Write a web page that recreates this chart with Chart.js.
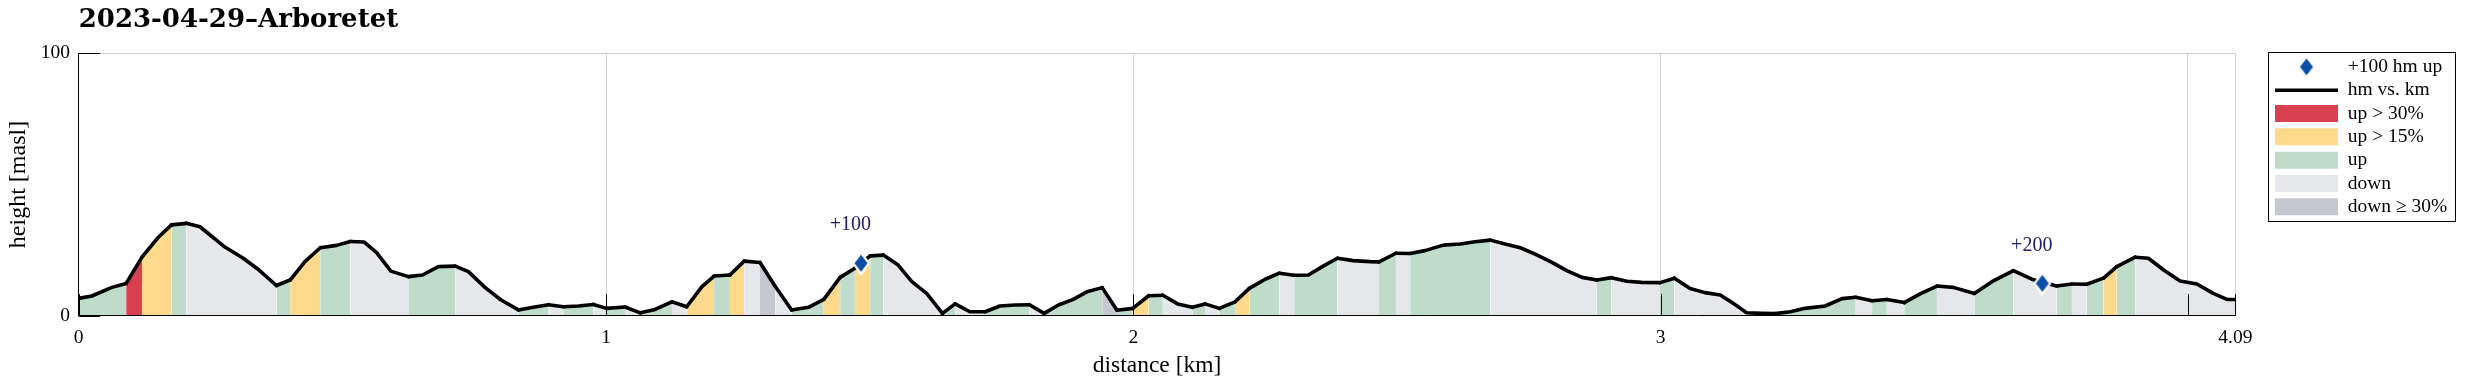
<!DOCTYPE html>
<html><head><meta charset="utf-8">
<script src="https://cdn.jsdelivr.net/npm/chart.js@4.4.0/dist/chart.umd.min.js"></script>
<style>html,body{margin:0;padding:0;background:#fff;overflow:hidden}canvas{display:block}</style>
</head><body>
<canvas id="c" width="2465" height="384"></canvas>
<script>
// ---- data ----
const distanceKm = [0.000,0.025,0.063,0.090,0.120,0.151,0.176,0.204,0.230,0.275,0.312,0.342,0.375,
0.401,0.429,0.458,0.489,0.515,0.541,0.565,0.592,0.625,0.652,0.682,0.714,0.739,0.771,0.801,0.834,
0.862,0.891,0.919,0.948,0.976,1.001,1.036,1.065,1.093,1.125,1.153,1.182,1.205,1.235,1.262,1.292,
1.321,1.352,1.384,1.413,1.444,1.472,1.501,1.526,1.554,1.580,1.608,1.638,1.662,1.690,1.719,1.747,
1.776,1.803,1.831,1.858,1.886,1.912,1.941,1.969,1.999,2.029,2.056,2.084,2.112,2.136,2.163,2.193,
2.220,2.250,2.277,2.305,2.332,2.360,2.387,2.417,2.449,2.466,2.498,2.525,2.553,2.588,2.620,2.648,
2.677,2.705,2.734,2.762,2.794,2.822,2.851,2.879,2.907,2.936,2.964,2.999,3.026,3.056,3.084,3.113,
3.138,3.163,3.192,3.217,3.246,3.274,3.312,3.344,3.370,3.401,3.429,3.462,3.492,3.524,3.555,3.595,
3.631,3.669,3.704,3.751,3.780,3.808,3.840,3.865,3.900,3.925,3.954,3.985,4.017,4.048,4.074,4.090];
const heightM = [6.6,7.5,10.8,12.3,22.3,29.9,34.6,35.2,33.9,26.5,21.9,17.4,11.5,
13.6,20.6,25.9,26.8,28.3,28.1,24.0,17.0,14.9,15.5,18.7,18.9,16.8,10.7,6.0,2.2,
3.2,4.2,3.4,3.7,4.3,2.8,3.3,1.1,2.4,5.3,3.4,11.1,15.1,15.5,20.8,20.3,
11.1,2.2,3.2,6.2,14.6,18.1,22.8,23.1,19.3,13.0,8.5,0.9,4.5,1.5,1.5,3.7,
4.1,4.2,0.9,4.1,6.2,9.1,10.7,2.1,2.8,7.6,7.8,4.5,3.2,4.5,2.8,5.3,
10.4,13.9,16.2,15.4,15.5,18.9,21.9,21.0,20.6,20.5,23.8,23.7,24.8,26.9,27.3,28.2,
28.8,27.3,25.9,23.5,20.3,17.2,14.6,13.6,14.5,13.1,12.7,12.6,14.3,10.4,8.8,7.9,
4.7,1.1,0.9,0.8,1.5,2.8,3.7,6.5,7.0,5.7,6.2,5.0,8.3,11.3,10.8,8.5,
13.3,17.2,13.9,11.3,12.1,12.0,14.3,18.7,22.3,21.9,17.4,13.2,12.1,8.5,6.2,6.2];
const markerKm = [1.4836, 3.7239];
const markerH = [20.0, 12.3];
const markerLabels = ['+100', '+200'];
const xTickValues = [0, 1, 2, 3, 4, 4.09];
const xTickLabels = ['0', '1', '2', '3', '', '4.09'];
const yTickValues = [0, 100];
const yTickLabels = ['0', '100'];
const legendLabels = ['+100 hm up', 'hm vs. km', 'up > 30%', 'up > 15%', 'up', 'down', 'down \u2265 30%'];
const titleText = '2023-04-29\u2013Arboretet';
const xTitle = 'distance [km]';
const yTitle = 'height [masl]';

// ---- styles ----
const COL = {red:'#d8404f', yellow:'#fdd98b', green:'#bfdccb', down:'#e6e7ea', downSteep:'#c5c8d0', marker:'#0c4da8', label:'#1e2060', grid:'#d0d0d0'};
const SERIF = "'Liberation Serif', 'Times New Roman', serif";

function slopeColor(p0, p1) {
  const dx = (p1.parsed.x - p0.parsed.x) * 1000;
  const s = (p1.parsed.y - p0.parsed.y) / dx;
  if (s > 0.3) return COL.red;
  if (s > 0.15) return COL.yellow;
  if (s > 0) return COL.green;
  if (s <= -0.3) return COL.downSteep;
  return COL.down;
}

function makeDiamond() {
  const c = document.createElement('canvas');
  c.width = 20; c.height = 28;
  const g = c.getContext('2d');
  g.beginPath(); g.moveTo(10, 1); g.lineTo(19, 14); g.lineTo(10, 27); g.lineTo(1, 14); g.closePath();
  g.fillStyle = '#ffffff'; g.fill();
  g.beginPath(); g.moveTo(10, 5.5); g.lineTo(16.5, 14); g.lineTo(10, 22.5); g.lineTo(3.5, 14); g.closePath();
  g.fillStyle = COL.marker; g.fill();
  return c;
}
const diamond = makeDiamond();

// legend geometry
const LEG_FONT = 19.5, LEG_PAD = 23.33 - 19.5, LEG_BOX_W = 63, LEG_BOX_H = 17;
const mctx = document.createElement('canvas').getContext('2d');
mctx.font = 'normal ' + LEG_FONT + 'px ' + SERIF;
const maxTW = Math.max(...legendLabels.map(t => mctx.measureText(t).width));
const legendWidth = LEG_PAD + (LEG_BOX_W + LEG_FONT / 2 + maxTW) + 10;
const ITEMS_LEFT = 2275, PLOT_LEFT = 78.7, PLOT_RIGHT = 2235.4, PLOT_TOP = 53.3, PLOT_BOTTOM = 315.7;
const padRight = Math.max(0, 2465 - (ITEMS_LEFT - LEG_PAD) - legendWidth);
const gapWidth = ITEMS_LEFT - LEG_PAD - PLOT_RIGHT;

const legendFill = [COL.marker, '#000', COL.red, COL.yellow, COL.green, COL.down, COL.downSteep];

const tickPlugin = {
  id: 'inwardTicks',
  afterDatasetsDraw(chart) {
    const {ctx, chartArea} = chart;
    const xs = chart.scales.x, ys = chart.scales.y;
    const L = 21.6;
    ctx.save();
    ctx.strokeStyle = '#000'; ctx.lineWidth = 1;
    ctx.beginPath();
    xTickValues.forEach(v => {
      const px = Math.round(xs.getPixelForValue(v)) + 0.5;
      ctx.moveTo(px, chartArea.bottom); ctx.lineTo(px, chartArea.bottom - L);
    });
    yTickValues.forEach(v => {
      const py = Math.round(ys.getPixelForValue(v)) + 0.5;
      ctx.moveTo(chartArea.left, py); ctx.lineTo(chartArea.left + L, py);
    });
    ctx.stroke();
    // marker labels
    const meta = chart.getDatasetMeta(1);
    ctx.fillStyle = COL.label;
    ctx.font = '20px ' + SERIF;
    ctx.textAlign = 'center'; ctx.textBaseline = 'middle';
    meta.data.forEach((el, i) => { ctx.fillText(markerLabels[i], el.x - 10.6, el.y - 38); });
    ctx.restore();
  }
};

const legendBoxPlugin = {
  id: 'legendBox',
  afterDraw(chart) {
    const lg = chart.legend;
    if (!lg || !lg.legendHitBoxes || !lg.legendHitBoxes.length) return;
    const hb = lg.legendHitBoxes;
    const x0 = hb[0].left - 7;
    const y0 = hb[0].top - 5;
    let x1 = 0;
    hb.forEach(h => { x1 = Math.max(x1, h.left + h.width); });
    x1 += 8;
    const last = hb[hb.length - 1];
    const y1 = last.top + last.height + 5;
    const ctx = chart.ctx;
    ctx.save();
    ctx.strokeStyle = '#000'; ctx.lineWidth = 1;
    ctx.strokeRect(Math.round(x0) + 0.5, Math.round(y0) + 0.5, Math.round(x1 - x0), Math.round(y1 - y0));
    ctx.restore();
  }
};

new Chart(document.getElementById('c'), {
  type: 'line',
  data: {
    datasets: [{
      label: 'hm vs. km',
      data: distanceKm.map((x, i) => ({x: x, y: heightM[i]})),
      borderColor: '#000',
      borderWidth: 3.6,
      borderJoinStyle: 'round',
      borderCapStyle: 'round',
      pointRadius: 0,
      tension: 0,
      fill: 'origin',
      backgroundColor: COL.down,
      segment: { backgroundColor: ctx => slopeColor(ctx.p0, ctx.p1) },
      order: 1
    }, {
      label: '+100 hm up',
      data: markerKm.map((x, i) => ({x: x, y: markerH[i]})),
      showLine: false,
      pointStyle: diamond,
      pointRadius: 10,
      fill: false,
      order: 0
    }]
  },
  options: {
    responsive: false,
    maintainAspectRatio: false,
    animation: false,
    devicePixelRatio: 1,
    events: [],
    layout: { padding: { left: 0, top: 0, bottom: 0, right: padRight } },
    scales: {
      x: {
        type: 'linear', min: 0, max: 4.09,
        afterBuildTicks: s => { s.ticks = xTickValues.map(v => ({value: v})); },
        ticks: { callback: (v, i) => xTickLabels[i], autoSkip: false, maxRotation: 0, padding: 10.3,
                 color: '#000', font: {family: SERIF, size: 19.5} },
        grid: { color: c => (c.tick && c.tick.value > 0) ? COL.grid : 'rgba(0,0,0,0)', drawTicks: false, lineWidth: 1 },
        border: { display: true, color: '#000', width: 1, z: 1 },
        title: { display: true, text: xTitle, color: '#000', font: {family: SERIF, size: 23.5}, padding: {top: 0, bottom: 4.2} },
        afterFit: s => { s.height = 384 - PLOT_BOTTOM; }
      },
      y: {
        min: 0, max: 100,
        afterBuildTicks: s => { s.ticks = yTickValues.map(v => ({value: v})); },
        ticks: { callback: (v, i) => yTickLabels[i], padding: 8.7, color: '#000', font: {family: SERIF, size: 19.5} },
        grid: { color: c => (c.tick && c.tick.value === 100) ? COL.grid : 'rgba(0,0,0,0)', drawTicks: false, lineWidth: 1 },
        border: { display: true, color: '#000', width: 1, z: 1 },
        title: { display: true, text: yTitle, color: '#000', font: {family: SERIF, size: 24}, padding: {top: 4.6, bottom: 0} },
        afterFit: s => { s.width = PLOT_LEFT; }
      },
      gap: {
        type: 'linear', position: 'right', axis: 'y', display: true,
        grid: { display: false, drawTicks: false }, border: { display: false },
        ticks: { display: false }, title: { display: false },
        afterFit: s => { s.width = gapWidth; }
      }
    },
    plugins: {
      tooltip: { enabled: false },
      title: {
        display: true, text: titleText, align: 'start', fullSize: false, color: '#000',
        font: { family: "'DejaVu Serif', serif", size: 26, weight: 'bold' },
        padding: { top: 5.1, bottom: PLOT_TOP - 31.2 - 5.1 }
      },
      legend: {
        display: true, position: 'right', align: 'start', fullSize: false,
        labels: {
          usePointStyle: true, pointStyleWidth: LEG_BOX_W, boxWidth: LEG_BOX_W, boxHeight: LEG_BOX_H,
          padding: LEG_PAD, color: '#000', font: { family: SERIF, size: LEG_FONT },
          generateLabels: () => legendLabels.map((t, i) => ({
            text: t,
            fillStyle: legendFill[i],
            strokeStyle: i === 1 ? '#000' : 'rgba(0,0,0,0)',
            lineWidth: i === 1 ? 3.5 : 0,
            pointStyle: i === 0 ? diamond : (i === 1 ? 'line' : 'rect'),
            hidden: false,
            fontColor: '#000',
            datasetIndex: i === 0 ? 1 : 0
          }))
        }
      }
    }
  },
  plugins: [tickPlugin, legendBoxPlugin]
});
</script>
</body></html>
